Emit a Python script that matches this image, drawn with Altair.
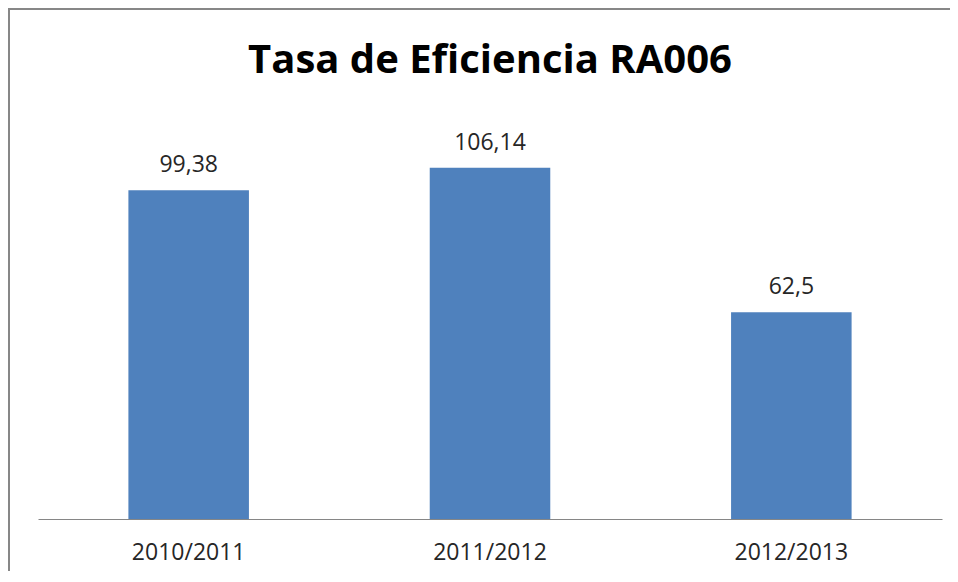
import altair as alt
import pandas as pd

categories = ["2010/2011", "2011/2012", "2012/2013"]
values = [99.38, 106.14, 62.5]
labels = ["99,38", "106,14", "62,5"]
title_text = "Tasa de Eficiencia RA006"

df = pd.DataFrame({"periodo": categories, "valor": values, "etiqueta": labels})

x_enc = alt.X("periodo:N", sort=categories,
              scale=alt.Scale(paddingInner=0.6, paddingOuter=0.3),
              axis=alt.Axis(title=None, labelAngle=0, ticks=False, domain=True,
                            domainColor="#868686", domainWidth=1,
                            labelFont="Open Sans", labelFontSize=23,
                            labelColor="#262626", labelPadding=22, grid=False))
y_enc = alt.Y("valor:Q", scale=alt.Scale(domain=[0, 120], nice=False), axis=None)

base = alt.Chart(df)
bars = base.mark_bar(color="#4F81BD").encode(x=x_enc, y=y_enc)
text = base.mark_text(font="Open Sans", fontSize=23, color="#262626",
                      baseline="alphabetic", dy=-18).encode(
    x=alt.X("periodo:N", sort=categories), y="valor:Q", text="etiqueta:N")

one = pd.DataFrame({"k": [0]})
frame = alt.Chart(one).mark_rect(
    fill=None, stroke="#878787", strokeWidth=2).encode(
    x=alt.value(-29), x2=alt.value(1100), y=alt.value(-113), y2=alt.value(1000))

title = alt.Chart(one).mark_text(
    font="Open Sans", fontSize=40, fontWeight="bold", color="#000000",
    align="center", baseline="alphabetic").encode(
    x=alt.value(452), y=alt.value(-49), text=alt.value(title_text))

chart = alt.layer(frame, bars, text, title).properties(
    width=904, height=397,
    autosize=alt.AutoSizeParams(type="none"),
    padding={"left": 30, "top": 114, "right": 8, "bottom": 52},
).configure_view(stroke=None)

chart.save("out.html", embed_options={"renderer": "svg", "actions": False})
